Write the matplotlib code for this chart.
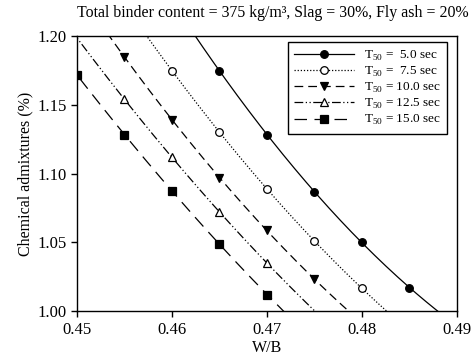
import numpy as np
import matplotlib
matplotlib.use('Agg')
from matplotlib import pyplot as plt

plt.rcParams['font.family'] = 'Liberation Serif'
plt.rcParams['mathtext.fontset'] = 'custom'
plt.rcParams['mathtext.rm'] = 'Liberation Serif'

# measured points for each T50 curve (W/B, admixture %)
wb_5 = [0.465, 0.470, 0.475, 0.480, 0.485]
ca_5 = [1.175, 1.128, 1.087, 1.050, 1.017]

wb_75 = [0.460, 0.465, 0.470, 0.475, 0.480]
ca_75 = [1.175, 1.130, 1.089, 1.051, 1.0165]

wb_10 = [0.455, 0.460, 0.465, 0.470, 0.475]
ca_10 = [1.185, 1.139, 1.097, 1.059, 1.023]

wb_125 = [0.455, 0.460, 0.465, 0.470]
ca_125 = [1.154, 1.112, 1.072, 1.035]

wb_15 = [0.450, 0.455, 0.460, 0.465, 0.470]
ca_15 = [1.172, 1.128, 1.0875, 1.049, 1.012]

labels = ['T$_{50}$ =  5.0 sec', 'T$_{50}$ =  7.5 sec', 'T$_{50}$ = 10.0 sec',
          'T$_{50}$ = 12.5 sec', 'T$_{50}$ = 15.0 sec']

series = [(wb_5, ca_5, 'o', 'k', '-'),
          (wb_75, ca_75, 'o', 'white', (0, (1, 1.5))),
          (wb_10, ca_10, 'v', 'k', (0, (7, 4))),
          (wb_125, ca_125, '^', 'white', (0, (7, 2, 1, 2, 1, 2))),
          (wb_15, ca_15, 's', 'k', (0, (10, 6)))]

fig = plt.figure(figsize=(4.75, 3.58), dpi=100)
ax = fig.add_axes([0.162, 0.131, 0.800, 0.768])

xx = np.linspace(0.44, 0.50, 300)
handles = []
for (x, y, m, fc, ls), lab in zip(series, labels):
    # quadratic trend through the points, drawn across the whole axes
    p = np.polyfit(x, y, 2)
    ax.plot(xx, np.polyval(p, xx), color='k', lw=0.9, linestyle=ls)
    ax.plot(x, y, linestyle='none', marker=m, ms=5.5, mfc=fc, mec='k', mew=0.9)
    # legend entry: line with the marker in the middle
    h, = ax.plot([], [], color='k', lw=0.9, linestyle=ls, marker=m, ms=5.5,
                 mfc=fc, mec='k', mew=0.9, label=lab)
    handles.append(h)

ax.set_xlim(0.45, 0.49)
ax.set_ylim(1.00, 1.20)
ax.set_xticks([0.45, 0.46, 0.47, 0.48, 0.49])
ax.set_yticks([1.00, 1.05, 1.10, 1.15, 1.20])
ax.set_xticklabels(['0.45', '0.46', '0.47', '0.48', '0.49'])
ax.set_yticklabels(['1.00', '1.05', '1.10', '1.15', '1.20'])
ax.tick_params(direction='out', length=4, width=1, labelsize=12)
for s in ax.spines.values():
    s.set_linewidth(1)

ax.set_xlabel('W/B', fontsize=11.5, labelpad=2)
ax.set_ylabel('Chemical admixtures (%)', fontsize=11.5, labelpad=3)
fig.text(0.575, 0.965, 'Total binder content = 375 kg/m\u00b3, Slag = 30%, Fly ash = 20%',
         fontsize=11.4, ha='center', va='center')

leg = ax.legend(handles=handles, loc='upper right', bbox_to_anchor=(0.974, 0.978),
                fontsize=9.5, handlelength=4.5, fancybox=False, edgecolor='k',
                framealpha=1, borderaxespad=0, labelspacing=0.15,
                handletextpad=0.75, borderpad=0.5)
leg.get_frame().set_linewidth(1)

fig.savefig('out.png', dpi=100)
